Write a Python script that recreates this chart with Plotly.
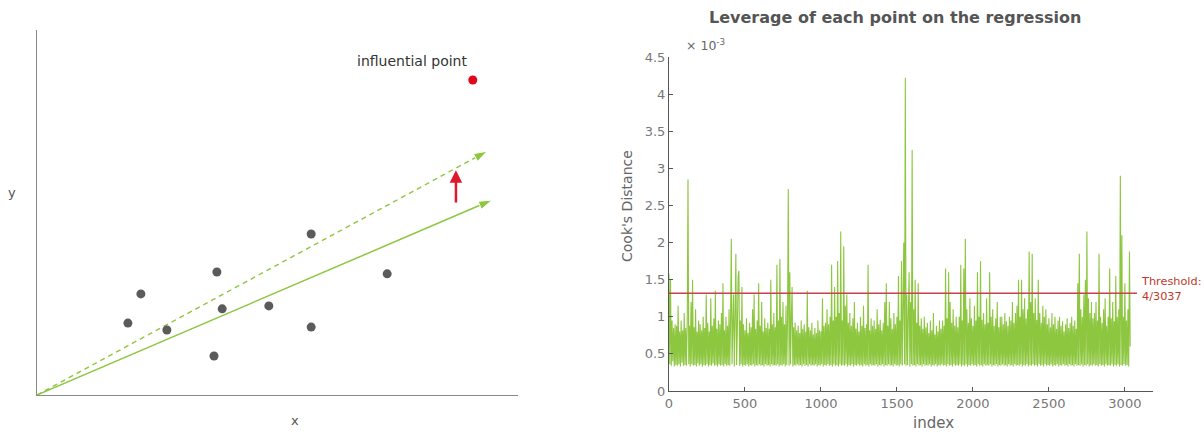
import plotly.graph_objects as go

W, H = 1204, 432

# ---------------- left schematic panel data ----------------
pts_x = [21.6, 18.9, 27.0, 37.4, 38.5, 36.8, 48.2, 57.0, 57.0, 72.8]
pts_y = [27.7, 19.7, 17.8, 33.7, 23.6, 10.7, 24.4, 44.1, 18.6, 33.2]
infl_x = [90.6]
infl_y = [86.3]
fit_x = [0.0, 94.6]
fit_y = [0.0, 53.4]
fit_infl_x = [0.0, 93.6]
fit_infl_y = [0.0, 66.8]
shift_x = [87.1, 87.1]
shift_y = [52.3, 61.6]

# ---------------- right panel data (Cook's distance, x1e-3), index step 5 ----------------
index_step = 5
cooks_d = [
    1.58, 0.36, 1.50, 0.34, 0.95, 0.40, 0.85, 0.33, 0.90, 0.35,
    0.88, 0.34, 1.15, 0.36, 0.80, 0.33, 0.95, 0.38, 0.82, 0.34,
    1.05, 0.35, 0.85, 0.34, 0.92, 2.85, 0.36, 0.88, 0.33, 1.20,
    0.36, 1.50, 0.34, 0.86, 0.35, 1.10, 0.33, 0.80, 0.37, 0.95,
    0.34, 0.90, 0.36, 0.82, 0.33, 1.00, 0.35, 0.85, 0.34, 1.30,
    0.36, 0.92, 0.33, 0.80, 0.35, 1.25, 0.34, 0.88, 0.37, 0.98,
    0.34, 1.35, 0.35, 0.84, 0.33, 0.95, 0.36, 0.90, 0.34, 1.05,
    0.35, 1.45, 0.33, 0.82, 0.36, 1.00, 0.34, 0.88, 0.35, 1.10,
    0.34, 0.95, 2.05, 0.36, 0.90, 1.30, 0.33, 1.00, 1.85, 0.35,
    0.85, 1.55, 1.62, 0.34, 0.95, 0.36, 1.40, 0.33, 0.90, 0.35,
    0.82, 0.34, 0.98, 0.36, 0.78, 0.33, 0.92, 0.35, 0.86, 0.34,
    1.10, 0.36, 1.30, 0.33, 0.84, 0.35, 0.95, 0.34, 1.45, 0.36,
    0.88, 0.34, 1.20, 0.35, 0.80, 0.33, 0.98, 0.36, 0.85, 0.34,
    0.92, 0.35, 0.84, 0.33, 1.50, 0.36, 0.90, 0.34, 1.05, 0.35,
    0.86, 0.34, 1.70, 0.36, 0.95, 0.33, 1.78, 0.35, 1.00, 0.34,
    1.20, 0.36, 0.90, 0.33, 1.15, 0.35, 0.95, 2.72, 0.34, 1.60,
    0.36, 1.00, 1.40, 0.33, 0.86, 0.35, 0.92, 0.34, 0.82, 0.36,
    0.88, 0.34, 0.78, 0.35, 0.95, 0.33, 0.84, 0.36, 0.90, 0.34,
    0.80, 0.35, 1.35, 0.33, 0.86, 0.36, 0.82, 0.34, 0.92, 0.35,
    0.76, 0.34, 0.85, 0.36, 0.78, 0.33, 0.95, 0.35, 0.82, 0.34,
    0.80, 0.36, 1.25, 0.33, 0.88, 0.35, 0.92, 0.34, 1.10, 0.36,
    0.90, 0.34, 1.00, 0.35, 1.70, 0.33, 0.95, 0.36, 1.40, 0.34,
    1.00, 0.35, 1.75, 0.33, 1.05, 0.36, 2.15, 0.34, 0.95, 0.35,
    1.95, 0.34, 1.15, 0.36, 1.30, 0.33, 0.92, 0.35, 1.05, 0.34,
    0.88, 0.36, 0.98, 0.33, 1.20, 0.35, 0.84, 0.34, 0.92, 0.36,
    0.80, 0.34, 1.00, 0.35, 0.88, 0.33, 1.15, 0.36, 0.85, 0.34,
    0.90, 0.35, 1.70, 0.33, 0.82, 0.36, 0.98, 0.34, 0.88, 0.35,
    0.95, 0.34, 0.84, 0.36, 1.10, 0.33, 0.90, 0.35, 0.96, 0.34,
    0.82, 0.36, 0.92, 0.33, 1.20, 0.35, 1.45, 0.34, 0.88, 0.36,
    1.20, 0.34, 0.98, 0.35, 0.84, 0.33, 1.05, 0.36, 0.90, 0.34,
    1.00, 0.35, 1.55, 0.33, 0.95, 0.36, 1.75, 0.34, 1.10, 2.00,
    0.36, 4.22, 0.34, 1.30, 0.35, 1.00, 1.60, 0.33, 1.20, 0.36,
    3.25, 0.34, 1.10, 0.35, 1.50, 0.33, 0.92, 0.36, 1.45, 0.34,
    0.88, 0.35, 0.98, 0.33, 0.84, 0.36, 1.00, 0.34, 0.86, 0.35,
    0.92, 0.34, 0.78, 0.36, 0.95, 0.33, 0.82, 0.35, 1.05, 0.34,
    0.76, 0.36, 0.88, 0.33, 0.80, 0.35, 0.95, 0.34, 0.84, 0.36,
    0.95, 0.34, 0.88, 0.35, 1.65, 0.33, 0.98, 0.36, 1.60, 0.34,
    1.20, 0.35, 0.92, 0.33, 1.10, 0.36, 0.88, 0.34, 1.00, 0.35,
    0.86, 0.34, 1.00, 0.36, 1.70, 0.33, 0.95, 0.35, 1.65, 0.34,
    2.05, 0.36, 1.10, 0.33, 0.92, 0.35, 1.25, 0.34, 0.98, 0.36,
    0.88, 0.34, 1.15, 0.35, 0.95, 0.33, 1.60, 0.36, 1.00, 0.34,
    1.75, 0.35, 0.96, 0.33, 1.05, 0.36, 0.90, 0.34, 1.25, 0.35,
    0.92, 0.34, 1.60, 0.36, 1.00, 0.33, 1.10, 0.35, 0.88, 0.34,
    0.98, 0.36, 1.20, 0.33, 0.86, 0.35, 1.00, 0.34, 1.00, 0.36,
    0.90, 0.34, 1.05, 0.35, 0.94, 0.33, 0.88, 0.36, 1.00, 0.34,
    0.95, 0.35, 1.20, 0.33, 0.92, 0.36, 1.05, 0.34, 1.15, 0.35,
    1.50, 0.34, 1.00, 0.36, 1.50, 0.33, 1.10, 0.35, 1.25, 0.34,
    0.98, 0.36, 1.10, 0.33, 1.88, 0.35, 1.20, 0.34, 1.85, 0.36,
    1.05, 0.34, 1.25, 0.35, 0.96, 0.33, 1.50, 0.36, 1.05, 0.34,
    0.92, 0.35, 1.15, 0.33, 1.00, 0.36, 1.10, 0.34, 0.90, 0.35,
    0.98, 0.34, 0.86, 0.36, 1.05, 0.33, 0.90, 0.35, 1.00, 0.34,
    0.84, 0.36, 0.95, 0.33, 1.00, 0.35, 0.88, 0.34, 0.94, 0.36,
    0.80, 0.34, 0.90, 0.35, 0.98, 0.33, 0.85, 0.36, 0.92, 0.34,
    1.00, 0.35, 0.88, 0.33, 0.95, 0.36, 0.84, 0.34, 1.45, 0.35,
    1.85, 0.34, 1.10, 0.36, 1.00, 0.33, 1.30, 0.35, 1.50, 0.34,
    2.15, 0.36, 1.25, 0.33, 1.05, 0.35, 1.20, 0.34, 0.98, 0.36,
    1.05, 0.34, 1.20, 0.35, 0.95, 0.33, 1.85, 0.36, 1.00, 0.34,
    0.92, 0.35, 1.10, 0.33, 1.25, 0.36, 0.88, 0.34, 1.00, 0.35,
    1.65, 0.34, 0.98, 0.36, 1.20, 0.33, 0.94, 0.35, 1.55, 0.34,
    1.00, 0.36, 1.10, 0.33, 2.90, 0.35, 2.10, 0.34, 1.00, 0.36,
    1.45, 0.34, 0.95, 0.35, 1.10, 0.33, 1.88, 0.60,
]
cooks_idx = [i * index_step for i in range(len(cooks_d))]
threshold = 4 / 3037 * 1000  # in units of 1e-3
threshold_x = [0, 3080]
x_ticks = [0, 500, 1000, 1500, 2000, 2500, 3000]
y_ticks = [0, 0.5, 1, 1.5, 2, 2.5, 3, 3.5, 4, 4.5]
y_ticklabels = ["0", "0.5", "1", "1.5", "2", "2.5", "3", "3.5", "4", "4.5"]

FONT = "DejaVu Sans"
GREEN = "#8dc63f"


def px(x):
    return x / W


def py(y):
    return 1 - y / H


fig = go.Figure()

# left panel
fig.add_trace(go.Scatter(
    x=fit_x, y=fit_y, mode="lines+markers", xaxis="x", yaxis="y",
    line=dict(color=GREEN, width=1.5),
    marker=dict(symbol="arrow", angleref="previous", size=[0, 14],
                opacity=[0, 1], color=GREEN),
    showlegend=False, hoverinfo="skip"))
fig.add_trace(go.Scatter(
    x=fit_infl_x, y=fit_infl_y, mode="lines+markers", xaxis="x", yaxis="y",
    line=dict(color=GREEN, width=1.4, dash="5px,4px"),
    marker=dict(symbol="arrow", angleref="previous", size=[0, 14],
                opacity=[0, 1], color=GREEN),
    showlegend=False, hoverinfo="skip"))
fig.add_trace(go.Scatter(
    x=pts_x, y=pts_y, mode="markers", xaxis="x", yaxis="y",
    marker=dict(size=9, color="#5b5b5b"), showlegend=False))
fig.add_trace(go.Scatter(
    x=infl_x, y=infl_y, mode="markers", xaxis="x", yaxis="y",
    marker=dict(size=9, color="#e3061b"), showlegend=False))

# right panel
fig.add_trace(go.Scatter(
    x=cooks_idx, y=cooks_d, mode="lines", xaxis="x2", yaxis="y2",
    line=dict(color=GREEN, width=1.1, simplify=False), showlegend=False))
fig.add_trace(go.Scatter(
    x=threshold_x, y=[threshold, threshold], mode="lines", xaxis="x2", yaxis="y2",
    line=dict(color="#c8434b", width=1.3), showlegend=False))


def note(x, y, text, size, color, **kw):
    d = dict(x=x, y=y, xref="paper", yref="paper", text=text, showarrow=False,
             xanchor="center", yanchor="middle",
             font=dict(family=FONT, size=size, color=color))
    d.update(kw)
    return d


annotations = [
    dict(x=shift_x[1], y=shift_y[1], ax=shift_x[0], ay=shift_y[0],
         xref="x", yref="y", axref="x", ayref="y", text="",
         showarrow=True, arrowhead=2, arrowsize=1, arrowwidth=2.5,
         arrowcolor="#e0182d"),
    dict(x=78.0, y=91.5, xref="x", yref="y", text="influential point",
         showarrow=False, xanchor="center", yanchor="middle",
         font=dict(family=FONT, size=14, color="#333333")),
    note(px(12), py(192), "y", 13, "#555555"),
    note(px(295), py(420), "x", 13, "#555555"),
    note(px(895), py(18), "<b>Leverage of each point on the regression</b>", 16, "#555555"),
    note(px(684), py(45), "× 10<sup>-3</sup>", 12.5, "#666666", xanchor="left"),
    note(px(627), py(206), "Cook's Distance", 14, "#666666", textangle=-90),
    note(px(933), py(423), "index", 15, "#666666"),
    note(px(1139), py(289), "Threshold:<br>4/3037", 11.3, "#c0392b",
         xanchor="left", align="left"),
]

fig.update_layout(
    width=W, height=H,
    autosize=False,
    margin=dict(l=0, r=0, t=0, b=0, pad=0, autoexpand=False),
    paper_bgcolor="white", plot_bgcolor="white",
    font=dict(family=FONT),
    xaxis=dict(domain=[px(37), px(518)], range=[0, 100], showgrid=False,
               zeroline=False, showline=True, linecolor="#8a8a8a",
               linewidth=1, showticklabels=False, ticks="", automargin=False),
    yaxis=dict(domain=[py(395), py(30)], range=[0, 100], showgrid=False,
               zeroline=False, showline=True, linecolor="#8a8a8a",
               linewidth=1, showticklabels=False, ticks="", automargin=False),
    xaxis2=dict(domain=[px(669), px(1153)], range=[0, 3185], anchor="y2",
                showgrid=False, zeroline=False, showline=True,
                linecolor="#555555", linewidth=1, tickvals=x_ticks,
                ticks="inside", ticklen=4, tickcolor="#555555", automargin=False,
                tickfont=dict(family=FONT, size=13, color="#777777")),
    yaxis2=dict(domain=[py(391), py(57)], range=[0, 4.5], anchor="x2",
                showgrid=False, zeroline=False, showline=True,
                linecolor="#555555", linewidth=1, tickvals=y_ticks,
                ticktext=y_ticklabels, ticks="inside", ticklen=4,
                tickcolor="#555555", automargin=False,
                tickfont=dict(family=FONT, size=13, color="#777777")),
    annotations=annotations,
)

fig.write_html("out.html", config={"displayModeBar": False},
               post_script="document.body.style.margin='0';document.body.style.overflow='hidden';")
